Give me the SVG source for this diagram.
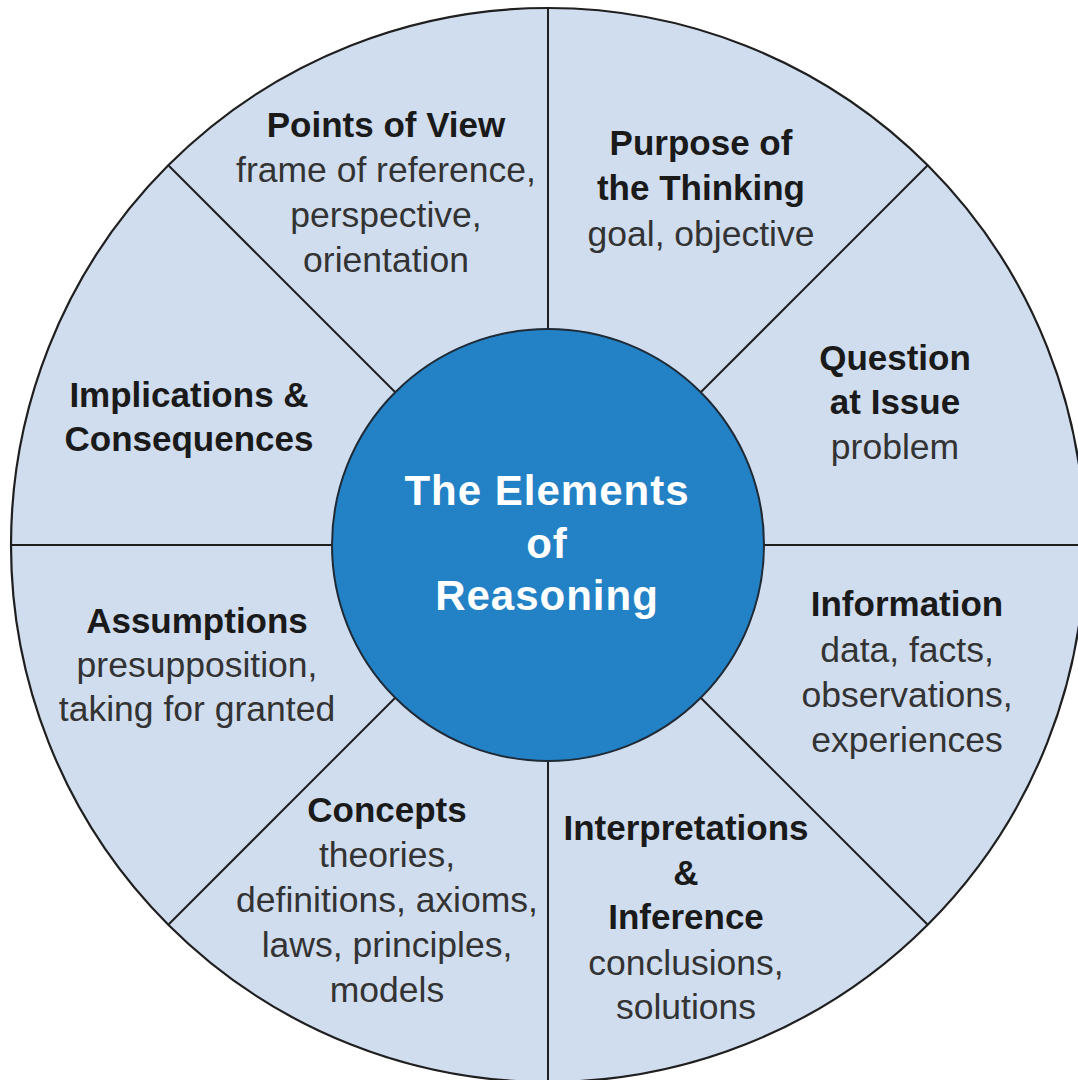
<svg xmlns="http://www.w3.org/2000/svg" width="1078" height="1080" viewBox="0 0 1078 1080">
<style>
  .wedge { fill: #d0ddef; stroke: none; }
  .rim { fill: none; stroke: #1f1f1f; stroke-width: 2.2; }
  .div line { stroke: #1f1f1f; stroke-width: 2; }
  .hub { fill: #2382c6; stroke: #1f2a35; stroke-width: 2; }
  text { font-family: "Liberation Sans", Arial, Helvetica, sans-serif; text-anchor: middle; }
  .t { font-weight: bold; font-size: 35px; fill: #1a1a1a; }
  .s { font-size: 35.5px; fill: #333333; }
  .c { font-weight: bold; font-size: 42px; fill: #ffffff; letter-spacing: 1px; }
</style>
<rect width="1078" height="1080" fill="#ffffff"/>

<g id="node-purpose">
  <path class="wedge" d="M548 8 A537 537 0 0 1 927.72 165.28 L700.74 392.26 A216 216 0 0 0 548 329 Z"/>
  <text class="t" x="701" y="155">Purpose of</text>
  <text class="t" x="701" y="200">the Thinking</text>
  <text class="s" x="701" y="246">goal, objective</text>
</g>
<g id="node-question">
  <path class="wedge" d="M927.72 165.28 A537 537 0 0 1 1085 545 L764 545 A216 216 0 0 0 700.74 392.26 Z"/>
  <text class="t" x="895" y="370">Question</text>
  <text class="t" x="895" y="414">at Issue</text>
  <text class="s" x="895" y="459">problem</text>
</g>
<g id="node-information">
  <path class="wedge" d="M1085 545 A537 537 0 0 1 927.72 924.72 L700.74 697.74 A216 216 0 0 0 764 545 Z"/>
  <text class="t" x="907" y="616">Information</text>
  <text class="s" x="907" y="662">data, facts,</text>
  <text class="s" x="907" y="707">observations,</text>
  <text class="s" x="907" y="752">experiences</text>
</g>
<g id="node-interpretations">
  <path class="wedge" d="M927.72 924.72 A537 537 0 0 1 548 1082 L548 761 A216 216 0 0 0 700.74 697.74 Z"/>
  <text class="t" x="686" y="840">Interpretations</text>
  <text class="t" x="686" y="885">&amp;</text>
  <text class="t" x="686" y="929">Inference</text>
  <text class="s" x="686" y="975">conclusions,</text>
  <text class="s" x="686" y="1019">solutions</text>
</g>
<g id="node-concepts">
  <path class="wedge" d="M548 1082 A537 537 0 0 1 168.28 924.72 L395.26 697.74 A216 216 0 0 0 548 761 Z"/>
  <text class="t" x="387" y="822">Concepts</text>
  <text class="s" x="387" y="867">theories,</text>
  <text class="s" x="387" y="912">definitions, axioms,</text>
  <text class="s" x="387" y="957">laws, principles,</text>
  <text class="s" x="387" y="1002">models</text>
</g>
<g id="node-assumptions">
  <path class="wedge" d="M168.28 924.72 A537 537 0 0 1 11 545 L332 545 A216 216 0 0 0 395.26 697.74 Z"/>
  <text class="t" x="197" y="633">Assumptions</text>
  <text class="s" x="197" y="677">presupposition,</text>
  <text class="s" x="197" y="721">taking for granted</text>
</g>
<g id="node-implications">
  <path class="wedge" d="M11 545 A537 537 0 0 1 168.28 165.28 L395.26 392.26 A216 216 0 0 0 332 545 Z"/>
  <text class="t" x="189" y="407">Implications &amp;</text>
  <text class="t" x="189" y="451">Consequences</text>
</g>
<g id="node-points-of-view">
  <path class="wedge" d="M168.28 165.28 A537 537 0 0 1 548 8 L548 329 A216 216 0 0 0 395.26 392.26 Z"/>
  <text class="t" x="386" y="137">Points of View</text>
  <text class="s" x="386" y="182">frame of reference,</text>
  <text class="s" x="386" y="227">perspective,</text>
  <text class="s" x="386" y="272">orientation</text>
</g>

<circle class="rim" cx="548" cy="545" r="537"/>

<g id="connectors" class="div">
  <line x1="548" y1="8" x2="548" y2="329"/>
  <line x1="927.72" y1="165.28" x2="700.74" y2="392.26"/>
  <line x1="1085" y1="545" x2="764" y2="545"/>
  <line x1="927.72" y1="924.72" x2="700.74" y2="697.74"/>
  <line x1="548" y1="1082" x2="548" y2="761"/>
  <line x1="168.28" y1="924.72" x2="395.26" y2="697.74"/>
  <line x1="11" y1="545" x2="332" y2="545"/>
  <line x1="168.28" y1="165.28" x2="395.26" y2="392.26"/>
</g>

<g id="node-center">
  <circle class="hub" cx="548" cy="545" r="216"/>
  <text class="c" x="547" y="505">The Elements</text>
  <text class="c" x="547" y="558">of</text>
  <text class="c" x="547" y="610">Reasoning</text>
</g>
</svg>
